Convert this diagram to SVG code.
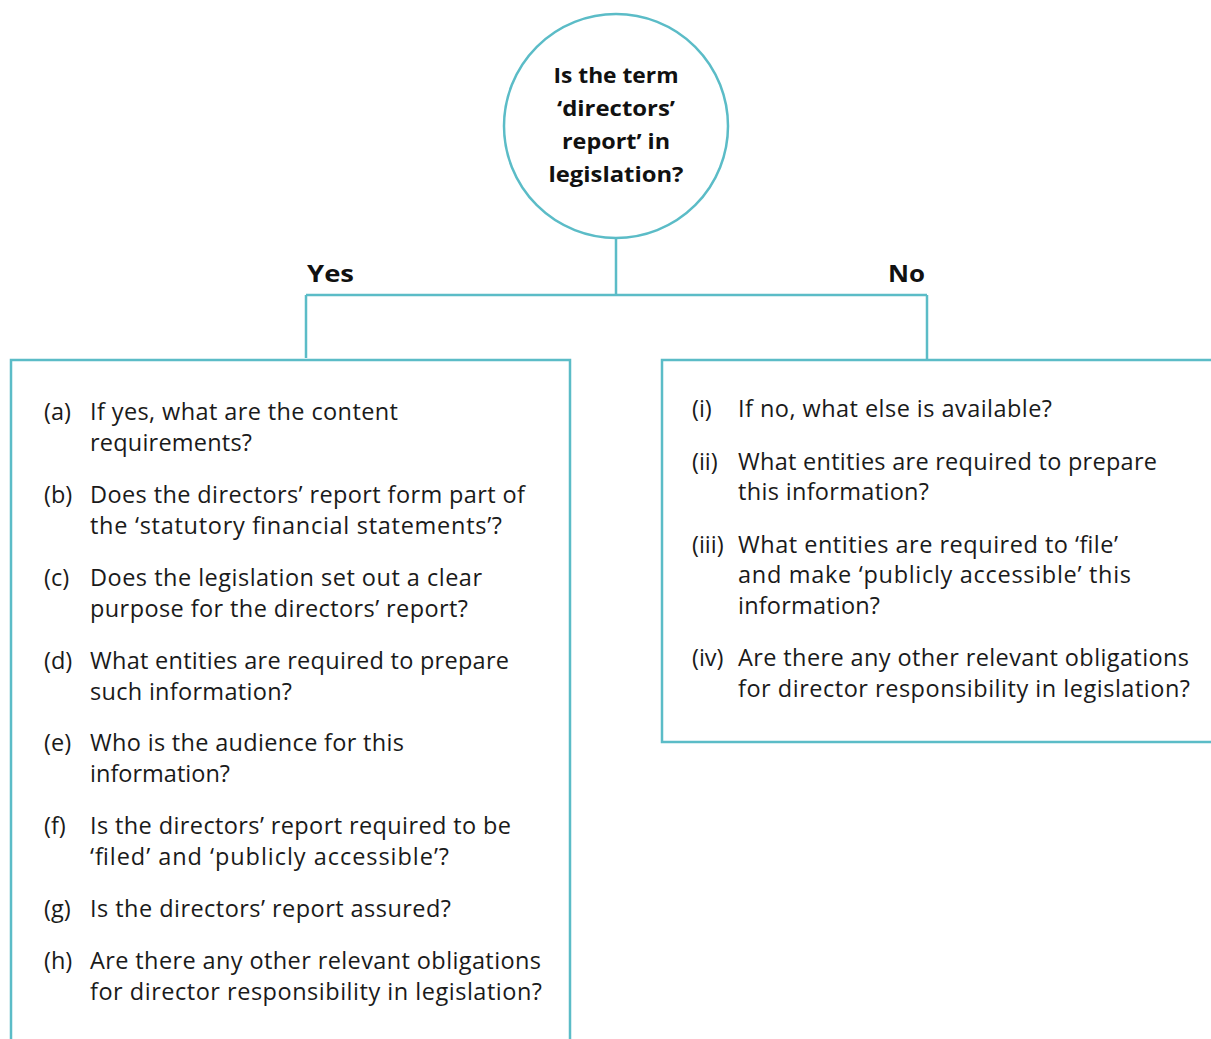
<svg xmlns="http://www.w3.org/2000/svg" width="1211" height="1039" viewBox="0 0 1211 1039">
<style>
.ln{stroke:#5bbcc7;stroke-width:2.5;fill:none}
.q{font-family:"Open Sans","Liberation Sans",Arial,sans-serif;font-size:23.5px;fill:#1a1a1a}
.b{font-family:"Open Sans","Liberation Sans",Arial,sans-serif;font-weight:bold;fill:#111}
</style>
<rect width="1211" height="1039" fill="#fff"/>
<g id="connectors">
<path class="ln" d="M616 238V295M306 295H927M306 295V358M927 295V359"/>
</g>
<g id="question">
<circle class="ln" cx="616" cy="126" r="112" fill="#fff"/>
<g class="b" font-size="22" text-anchor="middle">
<text x="616" y="83" textLength="125" lengthAdjust="spacingAndGlyphs">Is the term</text>
<text x="616" y="116" textLength="118" lengthAdjust="spacingAndGlyphs">‘directors’</text>
<text x="616" y="149" textLength="108" lengthAdjust="spacingAndGlyphs">report’ in</text>
<text x="616" y="182" textLength="135" lengthAdjust="spacingAndGlyphs">legislation?</text>
</g>
</g>
<g id="yes-label"><text class="b" font-size="24" x="307" y="282" textLength="47" lengthAdjust="spacingAndGlyphs">Yes</text></g>
<g id="no-label"><text class="b" font-size="24" x="888" y="282" textLength="37" lengthAdjust="spacingAndGlyphs">No</text></g>
<g id="yes-box">
<path class="ln" d="M11 1040V360H570V1040"/>
<g class="q">
<text x="44" y="420">(a)</text><text x="90" y="420" textLength="308">If yes, what are the content</text><text x="90" y="451" textLength="162">requirements?</text>
<text x="44" y="503">(b)</text><text x="90" y="503" textLength="435">Does the directors’ report form part of</text><text x="90" y="534" textLength="412">the ‘statutory financial statements’?</text>
<text x="44" y="586">(c)</text><text x="90" y="586" textLength="392">Does the legislation set out a clear</text><text x="90" y="617" textLength="378">purpose for the directors’ report?</text>
<text x="44" y="669">(d)</text><text x="90" y="669" textLength="419">What entities are required to prepare</text><text x="90" y="700" textLength="202">such information?</text>
<text x="44" y="751">(e)</text><text x="90" y="751" textLength="314">Who is the audience for this</text><text x="90" y="782" textLength="140">information?</text>
<text x="44" y="834">(f)</text><text x="90" y="834" textLength="421">Is the directors’ report required to be</text><text x="90" y="865" textLength="359">‘filed’ and ‘publicly accessible’?</text>
<text x="44" y="917">(g)</text><text x="90" y="917" textLength="361">Is the directors’ report assured?</text>
<text x="44" y="969">(h)</text><text x="90" y="969" textLength="451">Are there any other relevant obligations</text><text x="90" y="1000" textLength="452">for director responsibility in legislation?</text>
</g>
</g>
<g id="no-box">
<path class="ln" d="M1212 360H662V742H1212"/>
<g class="q">
<text x="692" y="417">(i)</text><text x="738" y="417" textLength="314">If no, what else is available?</text>
<text x="692" y="470">(ii)</text><text x="738" y="470" textLength="419">What entities are required to prepare</text><text x="738" y="500" textLength="191">this information?</text>
<text x="692" y="553">(iii)</text><text x="738" y="553" textLength="380">What entities are required to ‘file’</text><text x="738" y="583" textLength="393">and make ‘publicly accessible’ this</text><text x="738" y="614" textLength="142">information?</text>
<text x="692" y="666">(iv)</text><text x="738" y="666" textLength="451">Are there any other relevant obligations</text><text x="738" y="697" textLength="452">for director responsibility in legislation?</text>
</g>
</g>
</svg>
